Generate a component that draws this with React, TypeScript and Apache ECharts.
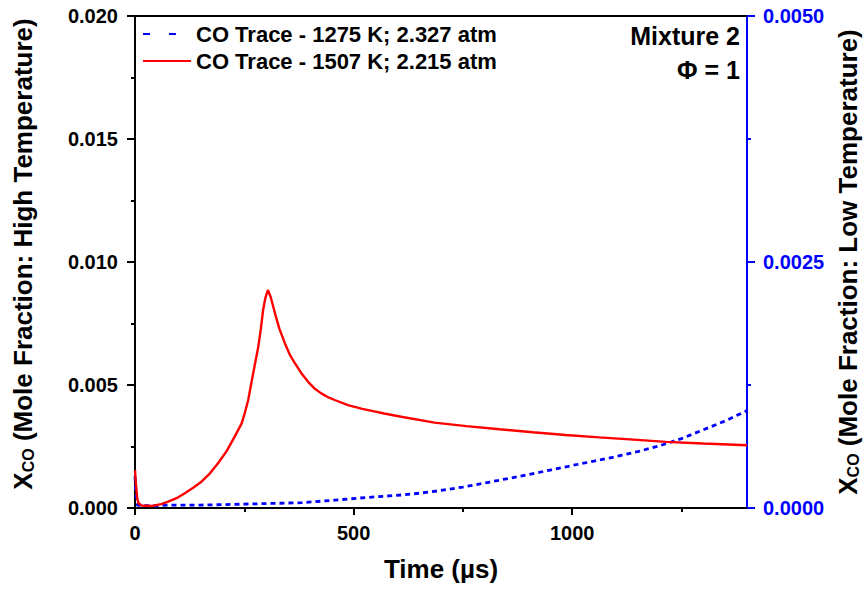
import React, { useEffect, useRef } from "react";
import * as echarts from "echarts";

const FONT = 'Arial, "Liberation Sans", sans-serif';

// High-temperature trace (1507 K), left axis
const redTime = [0, 2, 5, 8, 15, 38, 60, 76, 95, 114, 133, 152, 171, 190, 210, 228, 244, 251, 259, 266, 274, 282, 288, 293, 298, 304, 310, 316, 322, 330, 343, 355, 366, 381, 396, 410, 426, 441, 457, 487, 520, 550, 570, 609, 685, 758, 834, 910, 985, 1062, 1140, 1215, 1300, 1400];
const redValue = [0.00154, 0.001, 0.0004, 0.00019, 0.0001, 0.00008, 0.00016, 0.00026, 0.0004, 0.0006, 0.00082, 0.00107, 0.0014, 0.00182, 0.00232, 0.0029, 0.00344, 0.00385, 0.00439, 0.00507, 0.00581, 0.00655, 0.0073, 0.00804, 0.00852, 0.00886, 0.0086, 0.0082, 0.0078, 0.0073, 0.00669, 0.0062, 0.00588, 0.00547, 0.00513, 0.00487, 0.00466, 0.00451, 0.00439, 0.00418, 0.00403, 0.00392, 0.00384, 0.00371, 0.00347, 0.00333, 0.0032, 0.00308, 0.00297, 0.00287, 0.00278, 0.00269, 0.00262, 0.00255];

// Low-temperature trace (1275 K), right axis
const blueTime = [0, 2, 5, 40, 76, 150, 228, 300, 381, 457, 533, 609, 650, 700, 750, 800, 850, 900, 950, 1000, 1050, 1100, 1150, 1200, 1250, 1300, 1350, 1400];
const blueValue = [0.00032, 0.00015, 0.00003, 0.00002, 0.00003, 0.00003, 0.000037, 0.000045, 0.000054, 0.00008, 0.000108, 0.000132, 0.00015, 0.000178, 0.000213, 0.000253, 0.000297, 0.00034, 0.000386, 0.000432, 0.000476, 0.000522, 0.000573, 0.000632, 0.000705, 0.000795, 0.000885, 0.00099];

const seriesNames = ["CO Trace - 1275 K; 2.327 atm", "CO Trace - 1507 K; 2.215 atm"];
const xMajor = [0, 500, 1000];
const xMinor = [250, 750, 1250];
const annotation = ["Mixture 2", "Φ = 1"];

export default function App() {
  const ref = useRef<HTMLDivElement>(null);
  useEffect(() => {
    if (!ref.current) return;
    const chart = echarts.init(ref.current, null, { renderer: "svg" });
    const axisText = { fontFamily: FONT, fontWeight: "bold" as const, fontSize: 20, color: "#000" };
    const nameRich = (color: string) => ({
      x: { fontFamily: FONT, fontWeight: "bold", fontSize: 26, color },
      s: { fontFamily: FONT, fontWeight: "bold", fontSize: 16, color, padding: [10, 0, 0, 0] },
    });
    const hiddenIcon = { opacity: 0, color: "transparent", borderWidth: 0 };
    chart.setOption({
      animation: false,
      backgroundColor: "#fff",
      grid: { left: 135, right: 116, top: 16, bottom: 88, containLabel: false, outerBoundsMode: "none" },
      legend: {
        orient: "vertical",
        left: 137,
        top: 18,
        itemWidth: 48,
        itemHeight: 14,
        itemGap: 5,
        textStyle: { fontFamily: FONT, fontWeight: "bold", fontSize: 22, color: "#000" },
        data: [
          { name: seriesNames[0], itemStyle: hiddenIcon, lineStyle: { type: [7, 19], width: 2 } },
          { name: seriesNames[1], itemStyle: hiddenIcon, lineStyle: { width: 2 } },
        ],
      },
      graphic: annotation.map((t, i) => ({
        type: "text",
        right: 123,
        top: 23 + i * 34,
        style: { text: t, font: `bold 25px ${FONT}`, fill: "#000", align: "right" },
      })),
      xAxis: [
        {
          type: "value",
          min: 0,
          max: 1400,
          interval: 500,
          position: "bottom",
          axisLine: { onZero: false, lineStyle: { color: "#000", width: 2 } },
          axisTick: { length: 7, lineStyle: { width: 2, color: "#000" }, customValues: xMajor },
          axisLabel: { ...axisText, margin: 15, customValues: xMajor, formatter: (v: number) => String(v) },
          splitLine: { show: false },
          name: "Time (µs)",
          nameLocation: "middle",
          nameGap: 48,
          nameTextStyle: { fontFamily: FONT, fontWeight: "bold", fontSize: 26, color: "#000" },
        },
        {
          type: "value",
          min: 0,
          max: 1400,
          position: "bottom",
          axisLine: { show: false, onZero: false },
          axisTick: { length: 4, lineStyle: { width: 2, color: "#000" }, customValues: xMinor },
          axisLabel: { show: false },
          splitLine: { show: false },
        },
        {
          type: "value",
          min: 0,
          max: 1400,
          position: "top",
          axisLine: { show: true, onZero: false, lineStyle: { color: "#000", width: 2 } },
          axisTick: { show: false },
          axisLabel: { show: false },
          splitLine: { show: false },
        },
      ],
      yAxis: [
        {
          type: "value",
          min: 0,
          max: 0.02,
          interval: 0.005,
          position: "left",
          axisLine: { show: true, onZero: false, lineStyle: { color: "#000", width: 2 } },
          axisTick: { show: true, length: 8, lineStyle: { width: 2, color: "#000" } },
          minorTick: { show: true, splitNumber: 2, length: 4, lineStyle: { width: 2, color: "#000" } },
          axisLabel: { ...axisText, margin: 17, formatter: (v: number) => v.toFixed(3) },
          splitLine: { show: false },
          minorSplitLine: { show: false },
          name: "{x|X}{s|CO}{x| (Mole Fraction: High Temperature)}",
          nameLocation: "middle",
          nameRotate: 90,
          nameGap: 99,
          nameTextStyle: { rich: nameRich("#000"), padding: [0, 0, 0, 16] },
        },
        {
          type: "value",
          min: 0,
          max: 0.005,
          interval: 0.0025,
          position: "right",
          axisLine: { show: true, onZero: false, lineStyle: { color: "#0000ff", width: 2 } },
          axisTick: { show: true, length: 8, lineStyle: { width: 2, color: "#0000ff" } },
          minorTick: { show: true, splitNumber: 2, length: 4, lineStyle: { width: 2, color: "#0000ff" } },
          axisLabel: { ...axisText, color: "#0000ff", margin: 16, formatter: (v: number) => v.toFixed(4) },
          splitLine: { show: false },
          minorSplitLine: { show: false },
          name: "{x|X}{s|CO}{x| (Mole Fraction: Low Temperature)}",
          nameLocation: "middle",
          nameRotate: 90,
          nameGap: 84,
          nameTextStyle: { rich: nameRich("#000") },
        },
      ],
      series: [
        {
          name: seriesNames[0],
          type: "line",
          xAxisIndex: 0,
          yAxisIndex: 1,
          showSymbol: false,
          symbol: "circle",
          smooth: false,
          lineStyle: { color: "#0000ff", width: 2.8, type: [5, 4] },
          itemStyle: { color: "#0000ff" },
          data: blueTime.map((t, i) => [t, blueValue[i]]),
        },
        {
          name: seriesNames[1],
          type: "line",
          xAxisIndex: 0,
          yAxisIndex: 0,
          showSymbol: false,
          symbol: "circle",
          smooth: false,
          lineStyle: { color: "#ff0000", width: 2.4 },
          itemStyle: { color: "#ff0000" },
          data: redTime.map((t, i) => [t, redValue[i]]),
        },
      ],
    });
    return () => chart.dispose();
  }, []);
  return <div ref={ref} style={{ position: "absolute", left: 0, top: 0, width: 863, height: 596 }} />;
}
